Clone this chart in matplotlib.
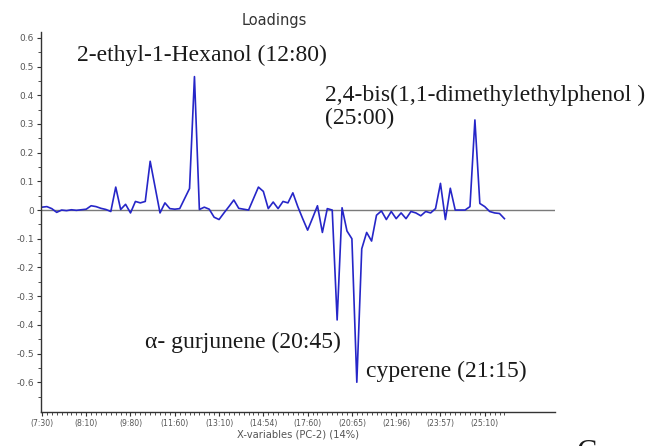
import matplotlib
matplotlib.use("Agg")
import matplotlib.pyplot as plt
import numpy as np

# PC-2 loadings for each x-variable (retention-time ordered)
loadings = [
    0.010, 0.012, 0.005, -0.008, 0.000, -0.002, 0.001, -0.001, 0.001, 0.003,
    0.015, 0.012, 0.006, 0.002, -0.005, 0.080, 0.002, 0.020, -0.010, 0.030,
    0.025, 0.030, 0.170, 0.080, -0.010, 0.025, 0.005, 0.003, 0.005, 0.040,
    0.075, 0.465, 0.002, 0.010, 0.003, -0.025, -0.033, -0.010, 0.012, 0.035,
    0.006, 0.003, 0.000, 0.040, 0.080, 0.065, 0.005, 0.028, 0.005, 0.030,
    0.025, 0.060, 0.012, -0.030, -0.070, -0.028, 0.015, -0.078, 0.005, 0.000,
    -0.383, 0.008, -0.073, -0.100, -0.600, -0.135, -0.078, -0.108, -0.018, -0.003,
    -0.033, -0.005, -0.030, -0.010, -0.030, -0.005, -0.010, -0.020, -0.005, -0.010,
    0.005, 0.093, -0.033, 0.076, 0.000, 0.000, 0.000, 0.012, 0.314, 0.023,
    0.012, -0.005, -0.010, -0.012, -0.030,
]

# Variable names shown on the x axis (every 9th variable)
tick_labels = ["(7:30)", "(8:10)", "(9:80)", "(11:60)", "(13:10)", "(14:54)",
               "(17:60)", "(20:65)", "(21:96)", "(23:57)", "(25:10)"]
tick_step = 9

# Annotated compounds: text, anchor (variable index, loading) for placement
annotations = [
    ("2-ethyl-1-Hexanol (12:80)", 7.2, 0.520),
    ("2,4-bis(1,1-dimethylethylphenol )\n(25:00)", 57.5, 0.300),
    ("\u03b1- gurjunene (20:45)", 20.9, -0.481),
    ("cyperene (21:15)", 65.8, -0.582),
]

y_ticks = [0.6, 0.5, 0.4, 0.3, 0.2, 0.1, 0, -0.1, -0.2, -0.3, -0.4, -0.5, -0.6]

x = np.arange(len(loadings))

fig = plt.figure(figsize=(6.5, 4.46), dpi=100)
ax = fig.add_axes([0.063, 0.076, 0.791, 0.852])

ax.axhline(0, color="#7a7a7a", lw=1.0, zorder=1)
ax.plot(x, loadings, color="#2626c8", lw=1.2, zorder=2)

ax.set_xlim(-0.2, 104.3)
ax.set_ylim(-0.704, 0.62)

for side in ("top", "right"):
    ax.spines[side].set_visible(False)
for side in ("left", "bottom"):
    ax.spines[side].set_color("#333333")
    ax.spines[side].set_linewidth(1.0)

ytick_font = {"family": "DejaVu Sans", "size": 6.5, "color": "#555555"}
xtick_font = {"family": "DejaVu Sans", "size": 5.6, "color": "#555555"}

ax.set_yticks(y_ticks)
ax.set_yticklabels([("%g" % v) for v in y_ticks], fontdict=ytick_font)
ax.set_yticks(np.arange(-0.65, 0.61, 0.05), minor=True)

major_x = x[::tick_step][:len(tick_labels)]
ax.set_xticks(major_x)
ax.set_xticklabels(tick_labels, fontdict=xtick_font)
ax.set_xticks(x, minor=True)

ax.tick_params(axis="both", which="major", direction="out", length=3,
               width=0.8, color="#333333", pad=2)
ax.tick_params(axis="both", which="minor", direction="out", length=2,
               width=0.6, color="#333333")

ax.set_xlabel("X-variables (PC-2) (14%)", family="DejaVu Sans", size=7.2,
              color="#555555", labelpad=1)

fig.text(0.422, 0.955, "Loadings", family="DejaVu Sans", size=10.5,
         color="#333333", ha="center", va="center")

for text, xi, yi in annotations:
    ax.text(xi, yi, text, family="Liberation Serif", size=17,
            color="#1a1a1a", ha="left", va="baseline", linespacing=1.12)

fig.text(0.888, -0.05, "C", family="Liberation Serif", size=22,
         color="#1a1a1a", ha="left", va="bottom")

fig.savefig("out.png", dpi=100, facecolor="white")
